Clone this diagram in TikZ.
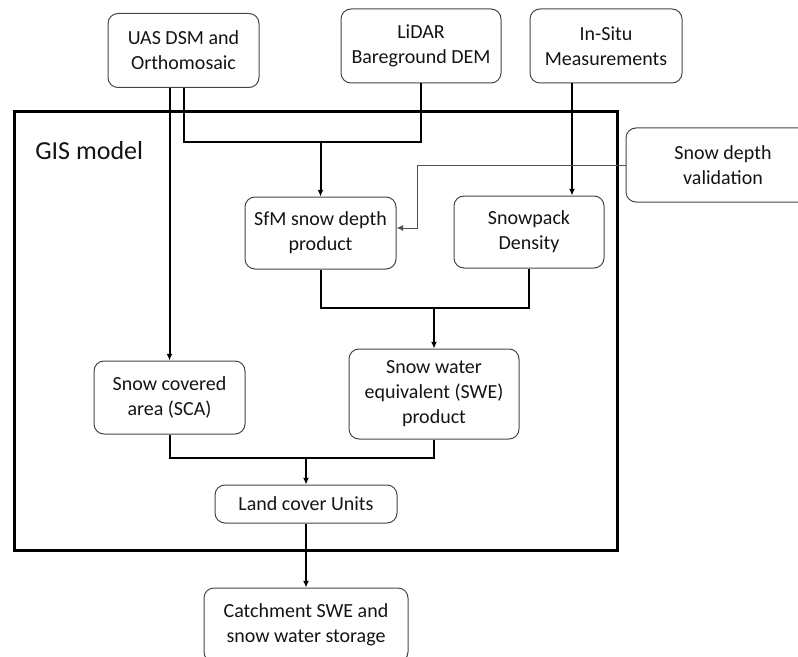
\documentclass[tikz,border=0pt]{standalone}
\usepackage{fontspec}
\setmainfont{Carlito}
\usetikzlibrary{arrows.meta}
\usetikzlibrary{positioning}

\definecolor{boxline}{RGB}{70,70,70}
\definecolor{boxtext}{RGB}{20,20,20}
\definecolor{thinline}{RGB}{80,80,80}

\begin{document}
\begin{tikzpicture}[
    x = 0.75pt, y = -0.75pt,
    >={Latex[length=5pt, width=4.5pt]},
    box/.style = {
        draw = boxline, rectangle, rounded corners = 7.5pt, line width = 0.75pt,
        text = boxtext, align = center, inner sep = 0pt,
        font = \fontsize{15pt}{18.75pt}\selectfont,
    },
    flow/.style = {black, line width = 1.5pt},
  ]
  \useasboundingbox (0,0) rectangle (798,656);

  % GIS frame
  \node[
      draw, rectangle, line width = 2.25pt,
      minimum width = 452.25pt, minimum height = 328.5pt, inner sep = 0pt
  ] (gis) at (315.5,331) {};
  \node[
      anchor = west, inner sep = 0pt, text = boxtext,
      font = \fontsize{19.5pt}{23pt}\selectfont
  ] (gislabel) at (35,151) {GIS model};

  % inputs
  \node[box, minimum width = 113.25pt, minimum height = 55.5pt] (uas) at (183.5,50.5) {UAS DSM and\\Orthomosaic};
  \node[box, minimum width = 120pt, minimum height = 55.5pt] (lidar) at (421,46) {LiDAR\\Bareground DEM};
  \node[box, minimum width = 114pt, minimum height = 55.5pt, right = 21pt of lidar] (insitu) {In-Situ\\Measurements};
  \node[box, minimum width = 145.5pt, minimum height = 55.5pt] (valid) at (723,165) {Snow depth\\validation};

  % products
  \node[box, minimum width = 113.25pt, minimum height = 54pt] (sfm) at (320.5,233) {SfM snow depth\\product};
  \node[box, minimum width = 112.5pt, minimum height = 54pt] (density) at (529,232) {Snowpack\\Density};
  \node[box, minimum width = 113.25pt, minimum height = 54.75pt] (sca) at (169.5,397.5) {Snow covered\\area (SCA)};
  \node[box, minimum width = 127.5pt, minimum height = 67.5pt] (swe) at (434,394) {Snow water\\equivalent (SWE)\\product};
  \node[box, minimum width = 136.5pt, minimum height = 28.5pt] (landcover) at (306,504) {Land cover Units};
  \node[box, minimum width = 153pt, minimum height = 55.5pt, below = 48pt of landcover] (catch) {Catchment SWE and\\snow water storage};

  % connectors
  \draw[flow, ->] (uas.south -| sca.north) -- (sca.north);
  \draw[flow] (uas.south) |- (lidar.south |- 0,142) coordinate (jtop) -- (lidar.south);
  \draw[flow, ->] (sfm.north |- jtop) -- (sfm.north);

  \draw[flow, ->] ([xshift=-25.5pt]insitu.south) coordinate (insitu out) -- (insitu out |- density.north);
  \draw[thinline, line width = 0.75pt, ->] (valid.west) -- ++(-208,0) |- ([yshift=3.75pt]sfm.east);

  \draw[flow] (sfm.south) |- (density.south |- 0,308) coordinate (jmid) -- (density.south);
  \draw[flow, ->] (swe.north |- jmid) -- (swe.north);

  \draw[flow] (sca.south) |- (swe.south |- 0,458) coordinate (jlow) -- (swe.south);
  \draw[flow, ->] (landcover.north |- jlow) -- (landcover.north);

  \draw[flow, ->] (landcover.south) -- (catch.north);
\end{tikzpicture}
\end{document}
